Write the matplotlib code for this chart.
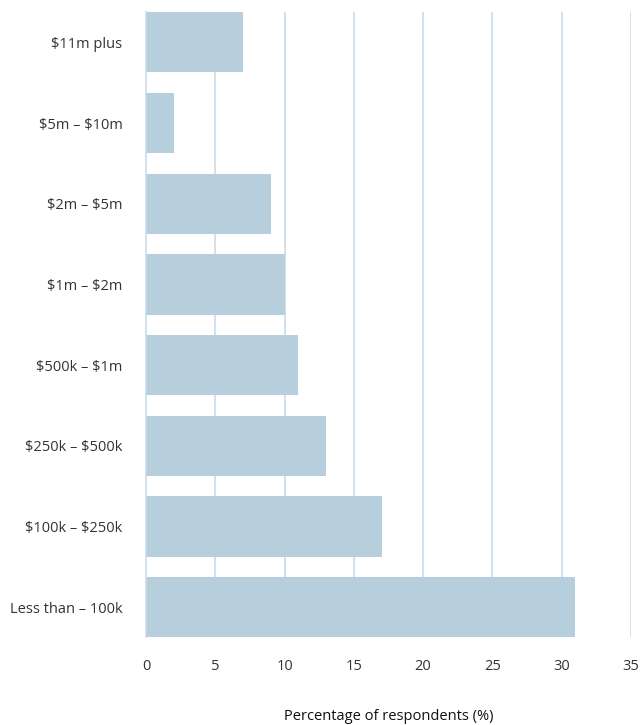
import matplotlib
matplotlib.use("Agg")
import matplotlib.pyplot as plt

plt.rcParams['font.family'] = ['Open Sans', 'DejaVu Sans']
plt.rcParams['text.parse_math'] = False

categories = ["Less than \u2013 100k", "$100k \u2013 $250k", "$250k \u2013 $500k",
              "$500k \u2013 $1m", "$1m \u2013 $2m", "$2m \u2013 $5m",
              "$5m \u2013 $10m", "$11m plus"]
values = [31, 17, 13, 11, 10, 9, 2, 7]
xticks = [0, 5, 10, 15, 20, 25, 30, 35]

bar_color = "#b7cfdd"
grid_color = "#c9dbe7"
text_color = "#333333"

fig = plt.figure(figsize=(6.41, 7.25), dpi=100)
ax = fig.add_axes([0.228, 0.121, 0.756, 0.862])

ax.barh(range(len(categories)), values, height=0.745, color=bar_color, zorder=2)

ax.set_xlim(0, 35)
ax.set_ylim(-0.3725, len(categories) - 1 + 0.3725)
ax.set_xticks(xticks)
ax.set_xticklabels([str(t) for t in xticks])
ax.set_yticks(range(len(categories)))
ax.set_yticklabels(categories)

for t in xticks[1:]:
    ax.axvline(t, color=grid_color, linewidth=1.2, zorder=1)

for s in ["top", "right", "bottom"]:
    ax.spines[s].set_visible(False)
ax.spines["left"].set_color(grid_color)
ax.spines["left"].set_linewidth(1.2)

ax.tick_params(axis="both", length=0, labelsize=10.5, colors=text_color)
ax.tick_params(axis="x", pad=16)
ax.tick_params(axis="y", pad=17)
ax.set_xlabel("Percentage of respondents (%)", fontsize=10.5, color="#111111", labelpad=25)

plt.savefig("out.png", dpi=100)
